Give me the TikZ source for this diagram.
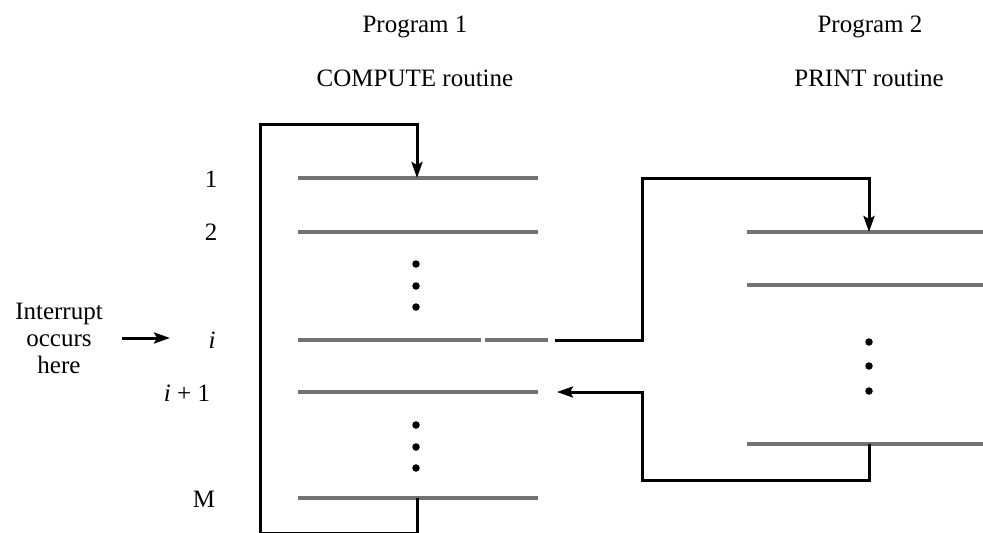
\documentclass[tikz,border=0pt]{standalone}
\usepackage{fontspec}
\setmainfont{Liberation Serif}
\usetikzlibrary{arrows.meta}
\begin{document}
\begin{tikzpicture}[x=1pt,y=-1pt,
  txt/.style={inner sep=0pt,font=\fontsize{25}{27}\selectfont},
  instr/.style={line width=3.5pt,black!55},
  conn/.style={line width=3pt,black},
  tip/.style={-{Stealth[length=16pt,width=11pt,inset=3pt]}},
  dotmark/.style={circle,fill=black,inner sep=0pt,minimum size=7.5pt}]
\useasboundingbox (0,0) rectangle (983,533);
% headings
\node[txt] (p1) at (415,27) {Program 1};
\node[txt] (c1) at (415,78) {COMPUTE routine};
\node[txt] (p2) at (870,27) {Program 2};
\node[txt] (c2) at (869,78) {PRINT routine};
% left labels
\node[txt] (l1) at (211,179) {1};
\node[txt] (l2) at (211,232) {2};
\node[txt] (li) at (212,340) {\itshape i};
\node[txt] (lip) at (187,393) {\itshape i\upshape\ + 1};
\node[txt] (lm) at (204,499) {M};
\node[txt,align=center] (intr) at (59,338) {Interrupt\\occurs\\here};
% left instruction lines
\coordinate (a1w) at (298,178); \coordinate (a1e) at (538,178);
\coordinate (a2w) at (298,232); \coordinate (a2e) at (538,232);
\coordinate (aiw) at (298,340); \coordinate (aie) at (548,340);
\coordinate (aipw) at (298,392); \coordinate (aipe) at (538,392);
\coordinate (amw) at (298,498); \coordinate (ame) at (538,498);
\draw[instr] (a1w) -- (a1e);
\draw[instr] (a2w) -- (a2e);
\draw[instr] (aiw) -- (481,340);
\draw[instr] (485,340) -- (aie);
\draw[instr] (aipw) -- (aipe);
\draw[instr] (amw) -- (ame);
% right instruction lines
\coordinate (b1w) at (747,232); \coordinate (b1e) at (983,232);
\coordinate (b2w) at (747,285); \coordinate (b2e) at (983,285);
\coordinate (bnw) at (747,444); \coordinate (bne) at (983,444);
\draw[instr] (b1w) -- (b1e);
\draw[instr] (b2w) -- (b2e);
\draw[instr] (bnw) -- (bne);
% dots
\foreach \y [count=\k] in {264,286,307} \node[dotmark] (da\k) at (416,\y) {};
\foreach \y [count=\k] in {425,447,468} \node[dotmark] (db\k) at (416,\y) {};
\foreach \y [count=\k] in {342,366,391} \node[dotmark] (dc\k) at (869,\y) {};
% interrupt arrow
\coordinate (ia) at (122,338); \coordinate (ib) at (170,338);
\draw[conn,tip] (ia) -- (ib);
% left loop
\coordinate (lt) at (417,178);
\coordinate (lb) at (417,498);
\draw[conn,tip] (lb) -- (417,533) -- (260,533) -- (260,124) -- (417,124) -- (lt);
% right loop out
\coordinate (ro) at (555,340);
\coordinate (rt) at (869,232);
\draw[conn,tip] (ro) -- (642,340) -- (642,178) -- (869,178) -- (rt);
% right loop back
\coordinate (rb) at (869,444);
\coordinate (rr) at (557,392);
\draw[conn,tip] (rb) -- (869,480) -- (642,480) -- (642,392) -- (rr);
\end{tikzpicture}
\end{document}
